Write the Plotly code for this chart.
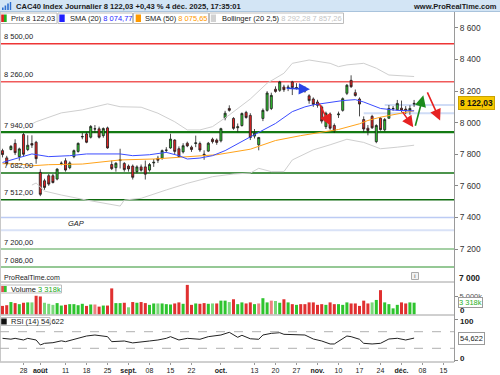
import plotly.graph_objects as go
import pandas as pd

# ---------------- data ----------------
trading_days = pd.bdate_range("2025-07-21", "2025-12-31")   # Euronext sessions (x categories)

opens = [7823, 7777, 7830, 7869, 7785, 7925, 7830, 7868, 7876, 7685,
         7632, 7664, 7664, 7643, 7742, 7759, 7715, 7785, 7818, 7910,
         7929, 7908, 7960, 7961, 7918, 7967, 7735, 7715, 7760, 7742,
         7725, 7725, 7690, 7720, 7720, 7700, 7745, 7775, 7775, 7825,
         7840, 7890, 7835, 7815, 7870, 7845, 7868, 7868, 7800, 7820,
         7895, 7890, 7885, 8030, 8090, 8027, 7968, 7982, 8065, 8046,
         7915, 7860, 8027, 8078, 8090, 8212, 8205, 8226, 8220, 8258,
         8220, 8225, 8215, 8170, 8150, 8131, 8100, 7975, 8055, 7982,
         8050, 8078, 8186, 8268, 8190, 8150, 8020, 7965, 8040, 7880,
         8028, 7955, 8028, 8088, 8082, 8092, 8086, 8076, 8118]
highs = [7835, 7790, 7858, 7895, 7842, 7935, 7920, 7920, 7885, 7705,
         7645, 7675, 7675, 7712, 7755, 7775, 7755, 7830, 7875, 7935,
         7940, 7985, 7985, 7975, 7970, 7975, 7760, 7750, 7835, 7750,
         7735, 7735, 7730, 7735, 7760, 7745, 7770, 7790, 7830, 7845,
         7930, 7895, 7850, 7870, 7880, 7855, 7918, 7880, 7825, 7878,
         7905, 7900, 7968, 8075, 8110, 8035, 7995, 8065, 8075, 8060,
         7960, 7910, 8090, 8200, 8190, 8230, 8265, 8240, 8240, 8265,
         8250, 8235, 8230, 8180, 8160, 8145, 8110, 8070, 8065, 7995,
         8070, 8160, 8245, 8300, 8210, 8160, 8040, 7985, 8050, 7990,
         8035, 8030, 8112, 8105, 8144, 8140, 8105, 8110, 8144]
lows = [7780, 7730, 7825, 7795, 7760, 7785, 7820, 7840, 7740, 7535,
        7575, 7600, 7615, 7635, 7730, 7690, 7705, 7775, 7810, 7895,
        7870, 7900, 7935, 7900, 7905, 7835, 7700, 7690, 7710, 7690,
        7690, 7640, 7680, 7690, 7640, 7690, 7720, 7745, 7765, 7810,
        7835, 7800, 7780, 7805, 7845, 7815, 7845, 7815, 7765, 7815,
        7868, 7860, 7875, 8015, 8070, 7955, 7940, 7975, 8025, 7890,
        7900, 7825, 8010, 8070, 8080, 8190, 8195, 8195, 8200, 8175,
        8210, 8195, 8190, 8120, 8100, 8095, 7995, 7960, 7955, 7935,
        8030, 8070, 8175, 8220, 8165, 8040, 7940, 7920, 7960, 7870,
        7950, 7945, 8025, 8075, 8078, 8065, 8055, 8050, 8100]
closes = [7798, 7744, 7850, 7810, 7834, 7800, 7857, 7858, 7772, 7546,
          7590, 7611, 7621, 7706, 7743, 7700, 7745, 7823, 7869, 7912,
          7876, 7976, 7961, 7908, 7963, 7840, 7709, 7743, 7765, 7703,
          7707, 7654, 7720, 7699, 7674, 7735, 7749, 7762, 7823, 7826,
          7896, 7818, 7786, 7854, 7853, 7830, 7872, 7827, 7795, 7870,
          7880, 7875, 7962, 8060, 8078, 7964, 7974, 8058, 8033, 7906,
          7934, 7906, 8078, 8188, 8173, 8198, 8258, 8209, 8225, 8222,
          8222, 8217, 8200, 8140, 8116, 8110, 8010, 8060, 7965, 7950,
          8055, 8152, 8237, 8228, 8172, 8118, 7960, 7950, 7968, 7982,
          7956, 8020, 8090, 8090, 8122, 8078, 8075, 8090, 8122.03]
volume_k = [2400, 2600, 3500, 3200, 2900, 3300, 3400, 3400, 5300, 5100,
            3300, 3000, 2700, 3200, 2500, 2700, 2900, 2900, 2600, 3000,
            2400, 2800, 2800, 2200, 2500, 2500, 7400, 3200, 3200, 3300,
            2000, 3500, 3300, 3500, 3200, 2700, 3100, 3100, 3100, 2900,
            2800, 3100, 3400, 3000, 8400, 2700, 3100, 3000, 3200, 3000,
            3100, 3100, 3900, 3900, 3500, 4300, 2900, 3400, 3100, 3400,
            2900, 3100, 4600, 3400, 3900, 3800, 3300, 4300, 3400, 2900,
            2700, 2900, 2900, 3400, 3400, 2700, 2900, 2700, 3400, 2900,
            2900, 2700, 3400, 3100, 3100, 2400, 3900, 3100, 3400, 4100,
            6900, 3400, 2900, 1700, 2700, 3400, 3100, 3400, 3318]

# indicator curves, sampled along the trading-day axis (session number, value)
sma20_at = [0, 4, 7, 11, 16, 20, 23, 28, 31, 35, 39, 42, 44, 47, 50, 53, 59, 61, 65, 69,
            72, 74, 76, 78, 81, 84, 86, 90, 92, 94, 98]
sma20 = [7748, 7780, 7802, 7785, 7791, 7802, 7802, 7802, 7791, 7797, 7812, 7791, 7770, 7776,
         7791, 7823, 7910, 7940, 7995, 8070, 8100, 8113, 8120, 8131, 8140, 8146, 8131, 8090,
         8082, 8078, 8074.77]
sma50_at = [0, 4, 7, 11, 19, 24, 28, 36, 44, 47, 51, 59, 65, 71, 75, 80, 85, 87, 90, 94, 98]
sma50 = [7740, 7740, 7727, 7734, 7738, 7755, 7764, 7770, 7785, 7788, 7797, 7832, 7887, 7918,
         7935, 7957, 7993, 8014, 8035, 8057, 8075.65]
boll_up_at = [7, 8, 14, 19, 25, 28, 33, 37, 41, 44, 47, 50, 54, 59, 63, 67, 69, 73, 78, 80,
              82, 86, 89, 92, 98]
boll_up = [7992, 8006, 8062, 8081, 8119, 8101, 8098, 8060, 8006, 7954, 7954, 7975, 8049, 8150,
           8250, 8313, 8376, 8397, 8376, 8355, 8366, 8376, 8345, 8302, 8292.28]
boll_lo_at = [7, 8, 10, 14, 20, 26, 28, 29, 33, 39, 44, 50, 55, 59, 61, 64, 67, 69, 72, 74,
              78, 82, 86, 90, 94, 98]
boll_lo = [7605, 7618, 7567, 7542, 7510, 7479, 7472, 7510, 7521, 7574, 7616, 7658, 7675, 7681,
           7711, 7690, 7690, 7764, 7802, 7828, 7860, 7895, 7875, 7835, 7845, 7857.26]
rsi_at = [0, 2, 3, 5, 6, 8, 9, 10, 12, 14, 15, 18, 20, 22, 23, 25, 26, 29, 31, 33, 35, 37, 39,
          40, 42, 44, 47, 49, 52, 54, 56, 57, 59, 61, 62, 64, 66, 67, 71, 72, 74, 76, 78, 79,
          82, 83, 85, 86, 88, 90, 92, 94, 96, 98]
rsi = [54, 52, 54, 50, 54, 50, 38, 42, 43.5, 48, 46, 54, 59.6, 62, 60.4, 58, 46, 47.6, 43, 46,
       47.6, 50, 54, 58, 50, 54, 51.7, 58, 62, 68.5, 56.5, 61.3, 53, 51.7, 62, 66, 67.6, 63.7,
       63.7, 62, 52.4, 47.6, 40.4, 40.4, 59.6, 58, 51.7, 42, 40.4, 42, 52.4, 54.1, 50, 54.622]

# drawn horizontal levels
levels = [8500, 8260, 7940, 7682, 7512, 7400, 7318, 7200, 7086]
level_labels = ["8 500,00", "8 260,00", "7 940,00", "7 682,00", "7 512,00", "", "",
                "7 200,00", "7 086,00"]
short_levels = [8112, 8060]
short_from = [91, 86]

price_ticks = [7200, 7400, 7600, 7800, 8000, 8200, 8400, 8600]
tick_dates = ["2025-07-28", "2025-08-01", "2025-08-11", "2025-08-18", "2025-08-25",
              "2025-09-01", "2025-09-08", "2025-09-15", "2025-09-22", "2025-10-01",
              "2025-10-13", "2025-10-20", "2025-10-27", "2025-11-03", "2025-11-10",
              "2025-11-17", "2025-11-24", "2025-12-01", "2025-12-08", "2025-12-15"]
tick_text = ["28", "<b>août</b>", "11", "18", "25", "<b>sept.</b>", "08", "15", "22",
             "<b>oct.</b>", "13", "20", "27", "<b>nov.</b>", "10", "17", "24",
             "<b>déc.</b>", "08", "15"]

# hand-drawn arrows: (tail session, tail price, head session, head price, colour)
arrows = [(67.3, 8218, 73.2, 8212, "#2a44e6"),
          (75.2, 8131, 78.1, 7982, "#e62222"),
          (95.0, 8078, 97.8, 7971, "#e62222"),
          (98.2, 7971, 100.2, 8173, "#1c8a1c"),
          (101.0, 8201, 104.2, 8014, "#e62222")]

# ---------------- figure ----------------
W, H = 500, 375
FONT = "Liberation Sans, Arial, sans-serif"


def px(x):
    return x / W


def py(y):
    return 1 - y / H


xi = list(range(len(closes)))
tickvals = [trading_days.get_loc(pd.Timestamp(d)) for d in tick_dates]

vol_colors = []
for i, c in enumerate(closes):
    prev = closes[i - 1] if i else opens[0]
    up = c >= prev
    body_up = c >= opens[i]
    if up:
        vol_colors.append("#2ec42e" if body_up else "#7ad87a")
    else:
        vol_colors.append("#e03030" if not body_up else "#ee8080")

fig = go.Figure()
fig.add_trace(go.Scatter(x=boll_up_at, y=boll_up, mode="lines",
                         line=dict(color="#cfcfcf", width=1), xaxis="x", yaxis="y"))
fig.add_trace(go.Scatter(x=boll_lo_at, y=boll_lo, mode="lines",
                         line=dict(color="#cfcfcf", width=1), xaxis="x", yaxis="y"))
fig.add_trace(go.Candlestick(
    x=xi, open=opens, high=highs, low=lows, close=closes, xaxis="x", yaxis="y",
    increasing=dict(line=dict(color="#1e1e1e", width=0.8), fillcolor="#2ec42e"),
    decreasing=dict(line=dict(color="#1e1e1e", width=0.8), fillcolor="#e52222"),
    whiskerwidth=0))
fig.add_trace(go.Scatter(x=sma50_at, y=sma50, mode="lines", line=dict(color="#ffa31a", width=1),
                         xaxis="x", yaxis="y"))
fig.add_trace(go.Scatter(x=sma20_at, y=sma20, mode="lines", line=dict(color="#3b4cff", width=1),
                         xaxis="x", yaxis="y"))
fig.add_trace(go.Bar(x=xi, y=volume_k, marker=dict(color=vol_colors, line=dict(width=0)),
                     width=0.72, xaxis="x2", yaxis="y2"))
fig.add_trace(go.Scatter(x=rsi_at, y=rsi, mode="lines", line=dict(color="#222222", width=1),
                         xaxis="x3", yaxis="y3"))

shapes = []
annotations = []

# header bar
shapes.append(dict(type="rect", xref="paper", yref="paper", x0=0, x1=1, y0=py(11.5), y1=1,
                   fillcolor="#d3e5f5", line=dict(width=0), layer="above"))
shapes.append(dict(type="line", xref="paper", yref="paper", x0=0, x1=1, y0=py(11.5), y1=py(11.5),
                   line=dict(color="#a9c3dc", width=1), layer="above"))
for (bx0, bx1, by0) in [(2, 3.6, 7.5), (4.6, 6.2, 5.5), (7.2, 8.8, 3.5), (9.8, 11.2, 2)]:
    shapes.append(dict(type="rect", xref="paper", yref="paper", x0=px(bx0), x1=px(bx1),
                       y0=py(10), y1=py(by0), fillcolor="#2f6fcf", line=dict(width=0),
                       layer="above"))
annotations.append(dict(xref="paper", yref="paper", x=px(13.5), y=py(6), xanchor="left",
                        yanchor="middle", showarrow=False,
                        text="<b>CAC40 Index Journalier 8 122,03 +0,43 % 4 déc. 2025, 17:35:01</b>",
                        font=dict(family=FONT, size=7.6, color="#1a1a1a")))
annotations.append(dict(xref="paper", yref="paper", x=px(498.5), y=py(6), xanchor="right",
                        yanchor="middle", showarrow=False, text="<b>www.ProRealTime.com</b>",
                        font=dict(family=FONT, size=7.5, color="#1a1a1a")))

# indicator legend boxes
legend_boxes = [(0.5, 57, 1.2, 6.7, ["#e02020", "#20b020"], 9.3,
                 "Prix 8 122,03"),
                (58, 132.5, 59.3, 64.7, ["#2020ff"], 67.7,
                 "SMA (20) <span style='color:#2a2aff'>8 074,77</span>"),
                (133.5, 208.5, 135.7, 141, ["#ff9a00"], 143.3,
                 "SMA (50) <span style='color:#ff9a00'>8 075,65</span>"),
                (209.5, 343.5, 210.8, 216, ["#d2d2d2"], 219.5,
                 "Bollinger (20 2,5) <span style='color:#c4c4c4'>8 292,28 7 857,26</span>")]
for bx0, bx1, sx0, sx1, scol, tx, txt in legend_boxes:
    shapes.append(dict(type="rect", xref="paper", yref="paper", x0=px(bx0), x1=px(bx1),
                       y0=py(23.5), y1=py(13), fillcolor="white",
                       line=dict(color="#bdbdbd", width=1), layer="above"))
    step = (sx1 - sx0) / len(scol)
    for k, col in enumerate(scol):
        shapes.append(dict(type="rect", xref="paper", yref="paper", x0=px(sx0 + k * step),
                           x1=px(sx0 + (k + 1) * step), y0=py(22), y1=py(14.5),
                           fillcolor=col, line=dict(width=0), layer="above"))
    annotations.append(dict(xref="paper", yref="paper", x=px(tx), y=py(18.4), xanchor="left",
                            yanchor="middle", showarrow=False, text=txt,
                            font=dict(family=FONT, size=7.5, color="#222")))

# volume / rsi legends
for (bx0, bx1, by0, by1, scol, tx, txt) in [
        (0.5, 61.5, 285, 293, ["#e05050", "#30c030"], 9.3,
         "Volume <span style='color:#22aa22'>3 318k</span>"),
        (0.5, 50, 317.5, 325.5, ["#111111"], 9.3, "RSI (14) 54,622")]:
    shapes.append(dict(type="rect", xref="paper", yref="paper", x0=px(bx0), x1=px(bx1),
                       y0=py(by1), y1=py(by0), fillcolor="white",
                       line=dict(color="#bdbdbd", width=1), layer="above"))
    step = 5.5 / len(scol)
    for k, col in enumerate(scol):
        shapes.append(dict(type="rect", xref="paper", yref="paper", x0=px(1.2 + k * step),
                           x1=px(1.2 + (k + 1) * step), y0=py(by1 - 1), y1=py(by0 + 1),
                           fillcolor=col, line=dict(width=0), layer="above"))
    annotations.append(dict(xref="paper", yref="paper", x=px(tx), y=py((by0 + by1) / 2),
                            xanchor="left", yanchor="middle", showarrow=False, text=txt,
                            font=dict(family=FONT, size=7.5, color="#222")))

# horizontal levels
level_style = {8500: ("#ee3535", 1.5), 8260: ("#f05a5a", 1.5), 7940: ("#137a13", 2.2),
               7682: ("#117011", 1.5), 7512: ("#0e6a0e", 1.5), 7400: ("#bccbf4", 1.5),
               7318: ("#d9e2f7", 2), 7200: ("#a5d0a5", 2), 7086: ("#72b672", 1.5)}
for lv, lab in zip(levels, level_labels):
    col, w = level_style[lv]
    shapes.append(dict(type="line", xref="x domain", yref="y", x0=0, x1=1, y0=lv, y1=lv,
                       line=dict(color=col, width=w), layer="below"))
    if lab:
        annotations.append(dict(xref="paper", yref="y", x=px(2), y=lv, xanchor="left",
                                yanchor="bottom", yshift=0.5, showarrow=False, text=lab,
                                font=dict(family=FONT, size=7.5, color="#222")))
for lv, start in zip(short_levels, short_from):
    shapes.append(dict(type="line", xref="x", yref="y", x0=start, x1=107.5, y0=lv, y1=lv,
                       line=dict(color="#cfdcf6", width=2), layer="below"))
annotations.append(dict(xref="paper", yref="y", x=px(75.5), y=(7400 + 7318) / 2,
                        xanchor="center", yanchor="middle", showarrow=False, text="<i>GAP</i>",
                        font=dict(family=FONT, size=7.5, color="#222")))

# arrows
for tx_, ty_, hx, hy, col in arrows:
    annotations.append(dict(xref="x", yref="y", axref="x", ayref="y", x=hx, y=hy, ax=tx_,
                            ay=ty_, showarrow=True, arrowhead=2, arrowsize=1.4,
                            arrowwidth=1.6, arrowcolor=col, text=""))

# panel frames
for yy in (282, 315, 362):
    shapes.append(dict(type="line", xref="paper", yref="paper", x0=0, x1=px(454), y0=py(yy),
                       y1=py(yy), line=dict(color="#a0a0a0", width=1), layer="above"))
shapes.append(dict(type="line", xref="paper", yref="paper", x0=px(0.5), x1=px(0.5),
                   y0=py(362), y1=py(12), line=dict(color="#c8c8c8", width=1), layer="above"))

# watermark and info icon
annotations.append(dict(xref="paper", yref="paper", x=px(1.5), y=py(277), xanchor="left",
                        yanchor="middle", showarrow=False, text="ProRealTime.com",
                        font=dict(family=FONT, size=7, color="#222")))
shapes.append(dict(type="rect", xref="paper", yref="paper", x0=px(411.5), x1=px(418.5),
                   y0=py(279.5), y1=py(272.5), fillcolor="#f2f2f2",
                   line=dict(color="#aaaaaa", width=1), layer="above"))
annotations.append(dict(xref="paper", yref="paper", x=px(415), y=py(276), xanchor="center",
                        yanchor="middle", showarrow=False, text="<b>i</b>",
                        font=dict(family=FONT, size=6, color="#888")))

# right-hand labels
annotations.append(dict(xref="paper", yref="paper", x=px(457), y=py(277.5), xanchor="left",
                        yanchor="middle", showarrow=False, text="<b>7 000</b>",
                        font=dict(family=FONT, size=8.4, color="#222")))
annotations.append(dict(xref="paper", yref="y", x=px(457.5), y=closes[-1], xanchor="left",
                        yanchor="middle", showarrow=False, text="<b>8 122,03</b>",
                        bgcolor="#f7c800", bordercolor="#c9a200", borderwidth=1, borderpad=1,
                        font=dict(family=FONT, size=8.4, color="#111")))
annotations.append(dict(xref="paper", yref="y2", x=px(457.5), y=volume_k[-1], xanchor="left",
                        yanchor="middle", showarrow=False, text="3 318k", bgcolor="white",
                        bordercolor="#9a9a9a", borderwidth=1, borderpad=0,
                        font=dict(family=FONT, size=7.5, color="#27b027")))
annotations.append(dict(xref="paper", yref="paper", x=px(458), y=py(310), xanchor="left",
                        yanchor="middle", showarrow=False, text="<b>0</b>",
                        font=dict(family=FONT, size=8, color="#222")))
annotations.append(dict(xref="paper", yref="paper", x=px(458), y=py(321), xanchor="left",
                        yanchor="middle", showarrow=False, text="<b>100</b>",
                        font=dict(family=FONT, size=8, color="#222")))
annotations.append(dict(xref="paper", yref="paper", x=px(458), y=py(358.3), xanchor="left",
                        yanchor="middle", showarrow=False, text="<b>0</b>",
                        font=dict(family=FONT, size=8, color="#222")))
annotations.append(dict(xref="paper", yref="y3", x=px(457.5), y=rsi[-1], xanchor="left",
                        yanchor="middle", showarrow=False, text="54,622", bgcolor="white",
                        bordercolor="#9a9a9a", borderwidth=1, borderpad=1,
                        font=dict(family=FONT, size=7.5, color="#222")))

xdom = [0, px(454)]
xr = [-0.6, 107.5]
fig.update_layout(
    width=W, height=H, autosize=False,
    margin=dict(l=0, r=0, t=0, b=0),
    paper_bgcolor="white", plot_bgcolor="white",
    showlegend=False, bargap=0.3,
    font=dict(family=FONT, size=8, color="#222"),
    xaxis=dict(domain=xdom, range=xr, anchor="y", showticklabels=False, showgrid=False,
               zeroline=False, rangeslider=dict(visible=False), automargin=False),
    xaxis2=dict(domain=xdom, range=xr, anchor="y2", matches="x", showticklabels=False,
                showgrid=False, zeroline=False, automargin=False),
    xaxis3=dict(domain=xdom, range=xr, anchor="y3", matches="x", tickmode="array",
                tickvals=tickvals, ticktext=tick_text, ticks="outside", ticklen=2,
                tickcolor="#999", tickfont=dict(family=FONT, size=7, color="#222"),
                showgrid=False, zeroline=False, automargin=False),
    yaxis=dict(domain=[py(282), py(12)], range=[6991, 8701], side="right", anchor="x",
               tickmode="array", tickvals=price_ticks,
               ticktext=[f"{v:,}".replace(",", " ") for v in price_ticks],
               ticks="outside", ticklen=3, tickcolor="#888",
               tickfont=dict(family=FONT, size=8.4, color="#333"), showgrid=False,
               zeroline=False, showline=True, linecolor="#9a9a9a", linewidth=1,
               automargin=False),
    yaxis2=dict(domain=[py(315), py(282)], range=[-200, 9230], side="right", anchor="x2",
                tickmode="array", tickvals=[5000], ticktext=["5 000k"], ticks="outside",
                ticklen=3, tickcolor="#888", tickfont=dict(family=FONT, size=7.5, color="#555"),
                showgrid=False, zeroline=False, showline=True, linecolor="#9a9a9a",
                linewidth=1, automargin=False),
    yaxis3=dict(domain=[py(362), py(315)], range=[-3, 110.2], side="right", anchor="x3",
                tickmode="array", tickvals=[0, 100], showticklabels=False,
                ticks="outside", ticklen=3, tickcolor="#888", showgrid=False,
                zeroline=False, showline=True, linecolor="#9a9a9a", linewidth=1,
                automargin=False),
    shapes=shapes + [
        dict(type="line", xref="x3 domain", yref="y3", x0=0, x1=1, y0=70, y1=70,
             line=dict(color="#b0b0b0", width=1, dash="dash")),
        dict(type="line", xref="x3 domain", yref="y3", x0=0, x1=1, y0=30, y1=30,
             line=dict(color="#b0b0b0", width=1, dash="dash")),
    ],
    annotations=annotations,
)

fig.write_html("out.html",
               config={"displayModeBar": False},
               post_script="document.body.style.margin='0px';"
                           "document.body.style.overflow='hidden';")
